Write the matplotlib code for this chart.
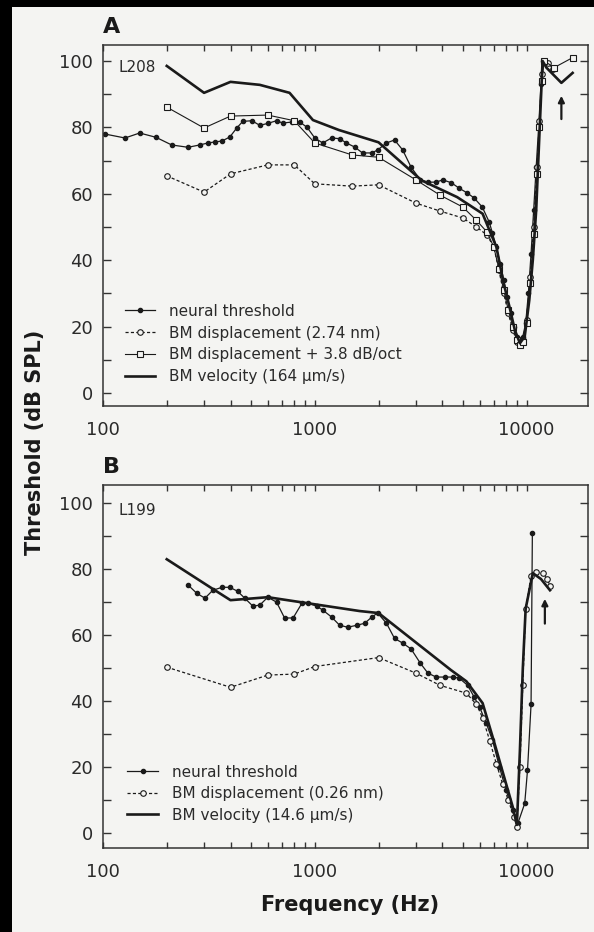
import numpy as np
import matplotlib
matplotlib.use("Agg")
import matplotlib.pyplot as plt
from matplotlib.patches import Rectangle
from matplotlib.ticker import LogLocator, MultipleLocator, NullFormatter

# ---- Panel A (L208) ----
neural_a_f = [102, 127, 149, 178, 211, 252, 286, 313, 337, 365, 397, 428, 457, 505, 550, 600, 660, 705,
              780, 850, 920, 1000, 1090, 1200, 1310, 1410, 1540, 1680, 1860, 1980, 2180, 2380, 2600, 2850,
              3150, 3430, 3740, 4020, 4420, 4800, 5260, 5660, 6180, 6660, 6900, 7200, 7500, 7800, 8100,
              8400, 8700, 9000, 9300, 9600, 9900, 10200, 10500, 10800, 11100, 11400, 11700, 11900, 12200]
neural_a_db = [78, 76.8, 78.3, 77, 74.7, 74, 74.7, 75.3, 75.6, 75.9, 77.1, 79.8, 81.8, 82, 80.6, 81.2, 82, 81.3,
               81.6, 81.6, 80, 76.8, 75.3, 76.8, 76.6, 75.3, 74.1, 72.3, 72.3, 73.2, 75.3, 76.2, 73.2, 68,
               64.2, 63.5, 63.5, 64.2, 63.3, 61.7, 60.2, 58.7, 56, 51.5, 48.2, 44, 39, 34, 29,
               24, 20, 17, 16, 17, 21, 30, 42, 55, 68, 80, 93, 100, 100]

disp_a_f = [200, 300, 400, 600, 800, 1000, 1500, 2000, 3000, 3900, 5000, 5800, 6500, 7000, 7400, 7800,
            8200, 8600, 9000, 9300, 9600, 10000, 10400, 10800, 11200, 11500, 11800, 12100, 12600, 13400]
disp_a_db = [65.4, 60.5, 66, 68.7, 68.7, 63, 62.3, 62.7, 57.2, 54.8, 52.7, 50, 47.6, 44, 37, 30,
             24, 19, 15.5, 14.5, 16, 22, 35, 50, 68, 82, 96, 100, 99.5, 97.5]

dispoct_a_f = [200, 300, 400, 600, 800, 1000, 1500, 2000, 3000, 3900, 5000, 5800, 6500, 7000, 7400, 7800,
               8200, 8600, 9000, 9300, 9600, 10000, 10400, 10800, 11200, 11500, 11800, 12100, 13500, 16500]
dispoct_a_db = [86.1, 79.8, 83.4, 83.7, 82, 75.3, 71.7, 71, 64.2, 59.6, 56, 52, 48.5, 44, 37.5, 31,
                25, 20, 16, 14.5, 15.5, 21, 33, 48, 66, 80, 94, 100, 98, 101]

vel_a_f = [200, 300, 400, 550, 760, 980, 1300, 2000, 3200, 4700, 6200, 7200, 7800, 8300, 8800, 9300,
           9800, 10300, 10700, 11100, 11500, 11900, 12400, 14600, 16500]
vel_a_db = [98.5, 90.4, 93.7, 92.8, 90.4, 82.2, 79.2, 75.5, 64, 59, 54, 44, 33, 26, 19, 15,
            17, 28, 40, 55, 78, 100, 98, 93.4, 96.4]

# ---- Panel B (L199) ----
neural_b_f = [252, 277, 303, 330, 365, 397, 432, 467, 510, 550, 600, 660, 720, 790, 870, 930, 1020, 1090,
              1200, 1310, 1430, 1580, 1720, 1860, 1980, 2180, 2380, 2600, 2850, 3150, 3420, 3740, 4110,
              4470, 4800, 5270, 5660, 6000, 6450, 6900, 7450, 8000, 8600, 9100, 9800, 10100, 10500, 10650]
neural_b_db = [75.2, 72.7, 71.2, 73.6, 74.5, 74.5, 73.3, 71.2, 68.8, 69.1, 71.5, 70, 65.2, 65.2, 69.7, 69.7,
               68.8, 67.6, 65.5, 63, 62.4, 63, 63.6, 65.5, 66.7, 63.6, 59, 57.6, 55.8, 51.5, 48.5, 47.3,
               47.3, 47.3, 47, 44.8, 41.2, 38.2, 33.3, 28.2, 20, 13, 7, 3, 9, 19, 39, 91]

disp_b_f = [200, 400, 600, 800, 1000, 2000, 3000, 3900, 5200, 5800, 6200, 6700, 7200, 7700, 8200, 8700,
            9000, 9300, 9600, 9900, 10500, 11100, 11900, 12500, 12900]
disp_b_db = [50.3, 44.2, 47.9, 48.2, 50.5, 53.2, 48.5, 44.8, 42.4, 39, 35, 28, 21, 15, 10, 5,
             2, 20, 45, 68, 78, 79, 78.8, 77, 75]

vel_b_f = [200, 330, 400, 600, 920, 1630, 2000, 4400, 5200, 6200, 7000, 8000, 8600, 9000, 9300, 9600,
           9900, 10700, 11700, 12900]
vel_b_db = [83, 74, 70.6, 71.5, 69.7, 67.3, 66.7, 49.4, 46, 39.4, 28, 15, 8, 2.5, 25, 50,
            68, 78.8, 77, 73.6]

x_ticks = [100, 1000, 10000]
x_ticklabels = ["100", "1000", "10000"]
y_ticks = [0, 20, 40, 60, 80, 100]

labels_a = ["neural threshold", "BM displacement (2.74 nm)", "BM displacement + 3.8 dB/oct",
            "BM velocity (164 \u00b5m/s)"]
labels_b = ["neural threshold", "BM displacement (0.26 nm)", "BM velocity (14.6 \u00b5m/s)"]

W, H = 594, 932
BG = "#f4f4f2"
INK = "#1a1a1a"

fig = plt.figure(figsize=(W / 100, H / 100), dpi=100, facecolor="black")
fig.patches.append(Rectangle((12 / W, 0), 1, 1 - 7 / H, transform=fig.transFigure,
                             facecolor=BG, edgecolor="none", zorder=-5))

ax_a = fig.add_axes([103 / W, 1 - 406 / H, 485 / W, 361 / H])
ax_b = fig.add_axes([103 / W, 1 - 848 / H, 485 / W, 363 / H])


def style_axis(ax, ylim):
    ax.set_facecolor(BG)
    ax.set_xscale("log")
    ax.set_xlim(100, 19500)
    ax.set_ylim(*ylim)
    ax.set_xticks(x_ticks)
    ax.set_xticklabels(x_ticklabels)
    ax.xaxis.set_minor_locator(LogLocator(base=10, subs=np.arange(2, 10)))
    ax.xaxis.set_minor_formatter(NullFormatter())
    ax.set_yticks(y_ticks)
    ax.yaxis.set_minor_locator(MultipleLocator(10))
    ax.tick_params(which="both", direction="in", top=True, right=True, color="#333333", width=1.0,
                   labelsize=13, labelcolor="#2a2a2a")
    ax.tick_params(axis="x", which="both", length=4, pad=11)
    ax.tick_params(axis="y", which="both", length=6, pad=7)
    for sp in ax.spines.values():
        sp.set_linewidth(1.1)
        sp.set_color("#333333")


def draw(ax, nf, nd, df, dd, vf, vd, of=None, od=None):
    ax.plot(nf, nd, color=INK, lw=0.9, marker="o", ms=3, mfc=INK, mec=INK)
    ax.plot(df, dd, color=INK, lw=0.9, ls=(0, (2.5, 1.8)), marker="o", ms=4, mfc=BG, mec=INK, mew=0.8)
    if of is not None:
        ax.plot(of, od, color=INK, lw=0.8, marker="s", ms=4, mfc=BG, mec=INK, mew=0.8)
    ax.plot(vf, vd, color=INK, lw=1.9)


style_axis(ax_a, (-3.9, 104.8))
draw(ax_a, neural_a_f, neural_a_db, disp_a_f, disp_a_db, vel_a_f, vel_a_db, dispoct_a_f, dispoct_a_db)
style_axis(ax_b, (-4.5, 105.5))
draw(ax_b, neural_b_f, neural_b_db, disp_b_f, disp_b_db, vel_b_f, vel_b_db)

ax_a.legend(ax_a.get_lines(), labels_a, loc="lower left", bbox_to_anchor=(0.045, 0.06),
            frameon=False, fontsize=11, handlelength=2.0, handletextpad=0.9, labelspacing=0.45,
            borderpad=0, borderaxespad=0, labelcolor="#2a2a2a")
ax_b.legend(ax_b.get_lines(), labels_b, loc="lower left", bbox_to_anchor=(0.05, 0.07),
            frameon=False, fontsize=11, handlelength=2.0, handletextpad=0.9, labelspacing=0.42,
            borderpad=0, borderaxespad=0, labelcolor="#2a2a2a")

ax_a.text(0.031, 0.939, "L208", transform=ax_a.transAxes, fontsize=11, va="center", color="#2a2a2a")
ax_b.text(0.031, 0.931, "L199", transform=ax_b.transAxes, fontsize=11, va="center", color="#2a2a2a")

arrow = dict(arrowstyle="-|>", color=INK, lw=1.6, mutation_scale=9, shrinkA=0, shrinkB=0)
ax_a.annotate("", xy=(14600, 89.5), xytext=(14600, 82.5), arrowprops=arrow)
ax_b.annotate("", xy=(12200, 71), xytext=(12200, 63.5), arrowprops=arrow)

fig.text(103 / W, 1 - 33 / H, "A", fontsize=16, fontweight="bold", color=INK)
fig.text(103 / W, 1 - 473 / H, "B", fontsize=16, fontweight="bold", color=INK)
fig.text(35 / W, 1 - 442 / H, "Threshold (dB SPL)", rotation=90, fontsize=15, fontweight="bold",
         ha="center", va="center", color=INK)
fig.text(350 / W, 1 - 905 / H, "Frequency (Hz)", fontsize=15, fontweight="bold",
         ha="center", va="center", color=INK)

fig.savefig("out.png", dpi=100, facecolor=fig.get_facecolor())
